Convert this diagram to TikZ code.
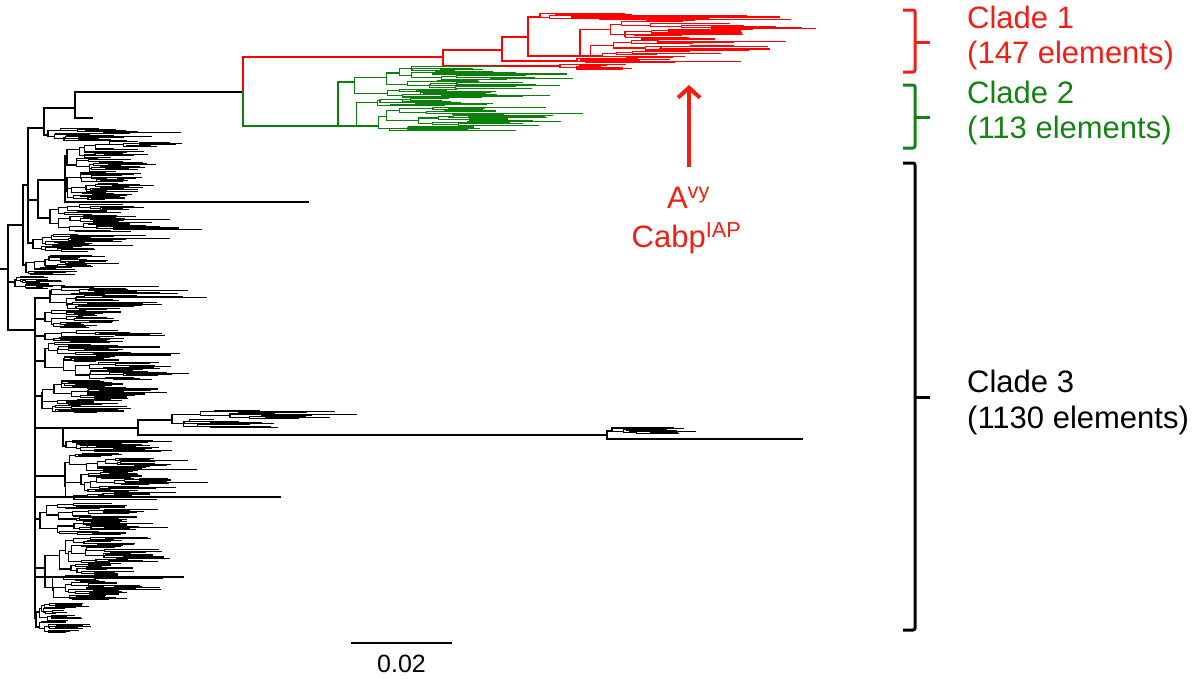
\documentclass[tikz,border=0pt]{standalone}
\usepackage{fontspec}
\setmainfont{Liberation Sans}
\usetikzlibrary{arrows.meta}
\definecolor{tred}{RGB}{255,0,0}
\definecolor{tgreen}{RGB}{10,128,10}
\definecolor{lred}{RGB}{240,30,20}
\definecolor{lgreen}{RGB}{20,130,20}
\makeatletter
% random rectangular subtree: #1 x, #2 ytop, #3 ybot, #4 y of connection, #5 branch scale, #6 leaf scale, #7 min height
\newcommand\subtr[7]{%
 \begingroup
 \pgfmathsetmacro\st@h{#3-#2}%
 \pgfmathtruncatemacro\st@leaf{\st@h<#7}%
 \ifnum\st@leaf=1
   \pgfmathsetmacro\st@l{#6*(0.2+0.8*rnd*rnd)}%
   \draw (#1,#4) -- ++(\st@l,0);%
   \endgroup
 \else
   \pgfmathsetmacro\st@s{#2+\st@h*(0.2+0.6*rnd)}%
   \pgfmathsetmacro\st@ya{min((#2+\st@s)/2,#4)}%
   \pgfmathsetmacro\st@yb{max((\st@s+#3)/2,#4)}%
   \pgfmathsetmacro\st@xa{#1+#5*rnd}%
   \pgfmathsetmacro\st@xb{#1+#5*rnd}%
   \draw (\st@xa,\st@ya) -- (#1,\st@ya) -- (#1,\st@yb) -- (\st@xb,\st@yb);%
   \edef\st@next{\noexpand\subtr{\st@xa}{#2}{\st@s}{\st@ya}{#5}{#6}{#7}\noexpand\subtr{\st@xb}{\st@s}{#3}{\st@yb}{#5}{#6}{#7}}%
   \expandafter\endgroup\st@next
 \fi}
\makeatother
\tikzset{
  tree/.style={line width=1.1pt, line cap=rect},
  lbl/.style={inner sep=0pt, font=\fontsize{31}{35}\selectfont},
  brace/.style={line width=3pt, rounded corners=2pt},
}
\begin{document}
\begin{tikzpicture}[x=1pt,y=-1pt]
\useasboundingbox (0,0) rectangle (1200,678);
\pgfmathsetseed{4242}
% ---------------- clade 3 (black) ----------------
\begin{scope}[tree, black]
\draw (0,269) -- (8,269);
\draw (8,225) -- (8,330);
\draw (8,225) -- (23,225);
\draw (23,185) -- (23,265);
\draw (23,185) -- (28,185);
\draw (28,128) -- (28,243);
\draw (28,128) -- (44,128);
\draw (44,108) -- (44,135);
\draw (44,108) -- (75,108);
\draw (75,92) -- (75,118);
\draw (75,118) -- (92,118);
\draw (75,92) -- (243,92);
\draw (44,135) -- (48,135); \subtr{48}{128}{141}{135}{22}{100}{1.7}
\draw (28,200) -- (38,200);
\draw (38,180) -- (38,218);
\draw (38,180) -- (65,180);
\draw (65,156) -- (65,202);
\draw (65,202) -- (308,202);
\draw (65,156) -- (67,156); \subtr{67}{141}{172}{156}{16}{55}{1.8}
\draw (65,186) -- (67,186); \subtr{67}{172}{200}{186}{16}{55}{1.8}
\draw (38,218) -- (50,218); \subtr{50}{204}{232}{218}{18}{90}{1.8}
\draw (28,243) -- (33,243); \subtr{33}{234}{252}{243}{18}{95}{1.8}
\draw (23,265) -- (26,265); \subtr{26}{255}{275}{265}{12}{55}{1.8}
\draw (8,282) -- (15,282); \subtr{15}{276}{289}{282}{12}{45}{1.8}
\draw (8,330) -- (35,330);
\draw (35,298) -- (35,618);
\draw (35,298) -- (50,298); \subtr{50}{286}{310}{298}{20}{110}{1.8}
\draw (35,319) -- (45,319); \subtr{45}{310}{328}{319}{15}{55}{1.8}
\draw (35,336) -- (45,336); \subtr{45}{330}{342}{336}{22}{130}{1.8}
\draw (35,361) -- (45,361); \subtr{45}{342}{380}{361}{20}{90}{1.8}
\draw (35,396) -- (42,396); \subtr{42}{380}{413}{396}{18}{75}{1.8}
\draw (35,428) -- (63,428);
\draw (63,428) -- (63,446);
\draw (63,428) -- (138,428);
\draw (138,420) -- (138,435);
\draw (138,420) -- (172,420); \subtr{172}{410}{428}{420}{30}{110}{1.6}
\draw (138,435) -- (607,435);
\draw (607,431) -- (607,439);
\draw (607,431) -- (612,431); \subtr{612}{427}{434}{431}{22}{85}{1.2}
\draw (607,439) -- (802,439);
\draw (63,446) -- (66,446); \subtr{66}{440}{452}{446}{22}{120}{1.7}
\draw (35,476) -- (65,476); \subtr{65}{453}{500}{476}{18}{80}{1.8}
\draw (35,497) -- (280,497);
\draw (35,519) -- (40,519); \subtr{40}{503}{535}{519}{18}{70}{1.8}
\draw (35,568) -- (45,568); \subtr{45}{537}{600}{568}{18}{75}{1.8}
\draw (35,577) -- (183,577);
\draw (35,618) -- (36,618); \subtr{36}{603}{633}{618}{8}{50}{2}
\end{scope}
% ---------------- clade 1 (red) ----------------
\begin{scope}[tree, tred]
\draw (243,92) -- (243,57) -- (443,57);
\draw (443,50) -- (443,66);
\draw (443,50) -- (502,50);
\draw (502,37) -- (502,61);
\draw (502,37) -- (528,37);
\draw (528,17) -- (528,56);
\draw (528,17) -- (540,17); \subtr{540}{13}{20}{17}{40}{210}{1.4}
\draw (528,56) -- (580,56); \subtr{580}{20}{58}{56}{32}{130}{2.3}
\draw (502,61) -- (577,61); \subtr{577}{58}{63}{61}{25}{150}{1.4}
\draw (443,66) -- (560,66); \subtr{560}{64}{70}{66}{25}{90}{1.4}
\end{scope}
% ---------------- clade 2 (green) ----------------
\begin{scope}[tree, tgreen]
\draw (243,92) -- (243,126) -- (338,126);
\subtr{338}{66}{131}{126}{36}{125}{1.9}
\end{scope}
% ---------------- braces and labels ----------------
\draw[brace, lred] (903,10) -- (915,10) -- (915,72) -- (903,72);
\draw[brace, lred] (915,42) -- (930,42);
\draw[brace, lgreen] (903,85) -- (915,85) -- (915,148) -- (903,148);
\draw[brace, lgreen] (915,117) -- (930,117);
\draw[brace, black] (903,163) -- (915,163) -- (915,630) -- (903,630);
\draw[brace, black] (915,397) -- (930,397);
\node[lbl, text=lred, anchor=base west] (c1a) at (967,28) {Clade 1};
\node[lbl, text=lred, anchor=base west] (c1b) at (967,63) {(147 elements)};
\node[lbl, text=lgreen, anchor=base west] (c2a) at (967,103) {Clade 2};
\node[lbl, text=lgreen, anchor=base west] (c2b) at (967,138) {(113 elements)};
\node[lbl, text=black, anchor=base west] (c3a) at (967,392) {Clade 3};
\node[lbl, text=black, anchor=base west] (c3b) at (967,428) {(1130 elements)};
% ---------------- arrow and gene labels ----------------
\coordinate (abase) at (689,167);
\coordinate (atip) at (689,85);
\draw[lred, line width=4pt, -{Straight Barb[length=10pt,width=22pt]}] (abase) -- (atip);
\node[lbl, text=lred, anchor=base] (avy) at (688.5,208) {A\textsuperscript{vy}};
\node[lbl, text=lred, anchor=base] (cabp) at (686.5,247) {Cabp\textsuperscript{IAP}};
% ---------------- scale bar ----------------
\coordinate (sb1) at (351,643);
\coordinate (sb2) at (452,643);
\draw[line width=1.3pt] (sb1) -- (sb2);
\node[inner sep=0pt, anchor=base, font=\fontsize{25}{30}\selectfont] (sbl) at (401.5,672) {0.02};
\end{tikzpicture}
\end{document}
